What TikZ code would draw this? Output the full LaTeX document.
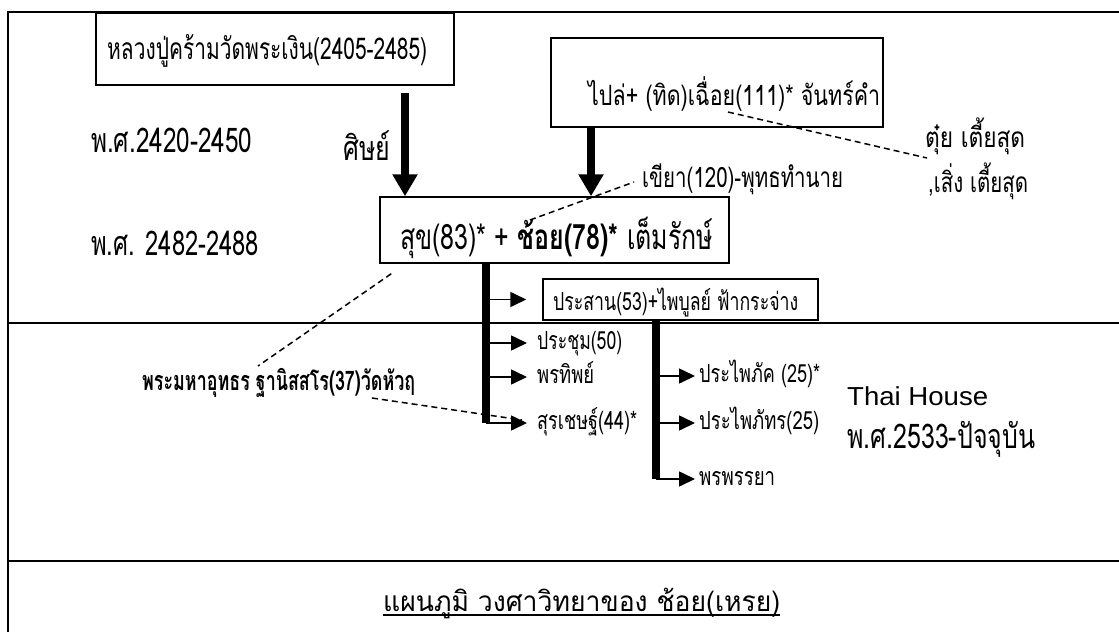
\documentclass[tikz,border=0pt]{standalone}
\usepackage{fontspec}
\usepackage{graphicx}
\usetikzlibrary{arrows.meta}
\newfontfamily\thai[Script=Thai]{Loma}
\newfontfamily\arial{Liberation Sans}
\newcommand{\fitto}[2]{\resizebox{#1pt}{\height}{#2}}
\newcommand{\fs}[1]{\fontsize{#1}{#1}\selectfont}

\begin{document}
\begin{tikzpicture}[x=1pt,y=-1pt]
\useasboundingbox (0,0) rectangle (1119,632);

% Styles
\tikzstyle{box} = [draw, line width=1.5pt, inner sep=0pt]
\tikzstyle{lbl} = [inner sep=0pt, anchor=base west, font=\thai]
\tikzstyle{kid} = [inner sep=0pt, anchor=west, font=\thai, text height=12pt, text depth=0pt]
\tikzstyle{bigarrow} = [line width=8pt, -{Triangle[width=24pt,length=22pt]}]
\tikzstyle{trunk} = [line width=8pt]
\tikzstyle{twig} = [line width=1.6pt, -{Triangle[width=15pt,length=16pt]}]
\tikzstyle{dashline} = [line width=1.5pt, dash pattern=on 6pt off 4pt]
\tikzstyle{rule} = [line width=1.7pt]

% Frame
\draw[rule] (1119,12) -- (8,12) -- (8,632);
\draw[rule] (8,323) -- (1119,323);
\draw[rule] (8,561) -- (1119,561);

% Periods
\node[lbl] (p1) at (91,152) {\fs{34}\fitto{161}{พ.ศ.2420-2450}};
\node[lbl] (p2) at (91,255) {\fs{34}\fitto{168}{พ.ศ. 2482-2488}};

% Teacher and first line
\node[box, minimum width=358pt, minimum height=72pt] (luangpubox) at (275,49) {};
\node[lbl] (luangpu) at (107,59) {\fs{30}\fitto{320}{หลวงปู่คร้ามวัดพระเงิน(2405-2485)}};
\node[box, minimum width=332pt, minimum height=89pt] (plaibox) at (717,82.5) {};
\node[lbl] (plai) at (588,105) {\fs{28}\fitto{292}{ไปล่+ (ทิด)เฉื่อย(111)* จันทร์คำ}};
\node[lbl] (sit) at (343,160) {\fs{34}\fitto{47}{ศิษย์}};
\node[lbl] (tuy) at (925,147) {\fs{28}\fitto{100}{ตุ๋ย เตี้ยสุด}};
\node[lbl] (seng) at (928,192) {\fs{28}\fitto{100}{,เสิ่ง เตี้ยสุด}};
\node[lbl] (kiao) at (642,187) {\fs{28}\fitto{201}{เขียา(120)-พุทธทำนาย}};

% Suk and Choi
\node[box, minimum width=349pt, minimum height=66pt] (sukbox) at (554.5,230) {};
\node[lbl] (suk) at (400,249) {\fs{35}\fitto{313}{สุข(83)* + \textbf{ช้อย(78)*} เต็มรักษ์}};

\coordinate (arrA) at (405,93);
\coordinate (arrB) at ([xshift=-126pt]plaibox.south);
\draw[bigarrow] (arrA) -- (arrA |- sukbox.north);
\draw[bigarrow] (arrB) -- (arrB |- sukbox.north);

% Children
\node[box, minimum width=275pt, minimum height=41pt] (prasanbox) at (680.5,299.5) {};
\node[lbl] (prasan) at (553,310) {\fs{25}\fitto{245}{ประสาน(53)+ไพบูลย์ ฟ้ากระจ่าง}};
\node[kid] (prachum) at (537,343) {\fs{25}\fitto{85}{ประชุม(50)}};
\node[kid] (pornthip) at (537,377) {\fs{25}\fitto{57}{พรทิพย์}};
\node[kid] (surachet) at (537,423) {\fs{25}\fitto{100}{สุรเชษฐ์(44)*}};

\coordinate (stemA) at ([xshift=-68.5pt]sukbox.south);
\draw[trunk] (stemA) -- (stemA |- surachet.west);
\draw[twig] (stemA |- prasanbox.west) -- ([xshift=-16pt]prasanbox.west);
\foreach \kid in {prachum, pornthip, surachet}
\draw[twig] (stemA |- \kid.west) -- ([xshift=-10pt]\kid.west);

% Grandchildren
\node[kid] (prapaipak) at (699,376) {\fs{25}\fitto{121}{ประไพภัค (25)*}};
\node[kid] (prapaipat) at (699,423) {\fs{25}\fitto{120}{ประไพภัทร(25)}};
\node[kid] (pornpanya) at (699,479) {\fs{25}\fitto{76}{พรพรรยา}};
\coordinate (stemB) at ([xshift=-24.5pt]prasanbox.south);
\draw[trunk] (stemB) -- (stemB |- pornpanya.west);
\foreach \kid in {prapaipak, prapaipat, pornpanya}
\draw[twig] (stemB |- \kid.west) -- ([xshift=-4pt]\kid.west);

% Thai House
\node[lbl, font=\arial] (house) at (847,405) {\fs{26}\fitto{141}{Thai House}};
\node[lbl] (now) at (847,448) {\fs{34}\fitto{188}{พ.ศ.2533-ปัจจุบัน}};

% Monk
\node[lbl, font=\thai\bfseries] (monk) at (142,390) {\fs{27}\fitto{273}{พระมหาอุทธร ฐานิสสโร(37)วัดหัวฤ}};

% Dashed notes
\draw[dashline] ([xshift=-24.5pt,yshift=10pt]sukbox.center) -- ([xshift=-8pt,yshift=5pt]kiao.base west);
\draw[dashline] ([xshift=140pt,yshift=-7pt]plai.base west) -- ([xshift=2pt,yshift=-11pt]tuy.base west);
\draw[dashline] ([xshift=12pt,yshift=-10pt]sukbox.south west) -- ([xshift=116pt,yshift=24pt]monk.base west);
\draw[dashline] ([xshift=230pt,yshift=-8pt]monk.base west) -- ([xshift=-15pt,yshift=3pt]surachet.west);

% Title
\node[lbl] (title) at (383,611) {\fs{28}\fitto{397}{แผนภูมิ วงศาวิทยาของ ช้อย(เหรย)}};
\draw[line width=1.4pt] ([yshift=-4pt]title.base west) -- ([yshift=-4pt]title.base east);

\end{tikzpicture}
\end{document}
